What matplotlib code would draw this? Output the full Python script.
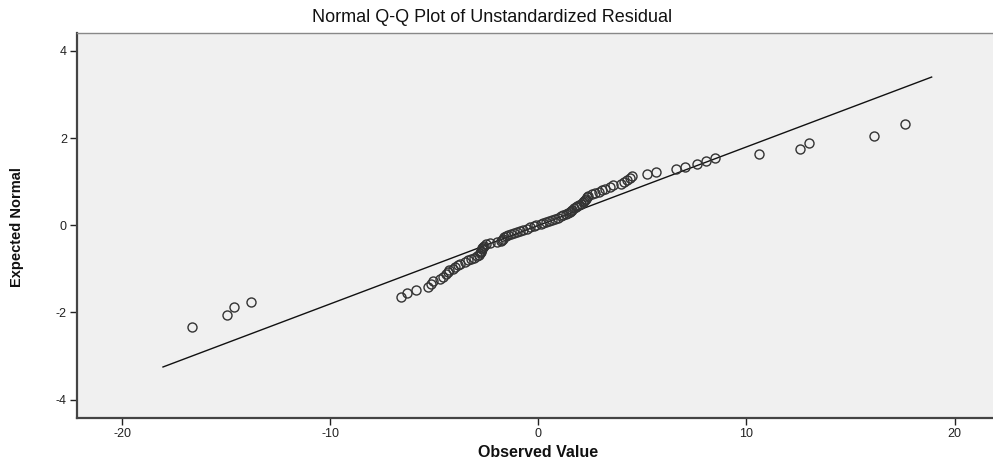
import matplotlib
matplotlib.use("Agg")
import matplotlib.pyplot as plt
from statistics import NormalDist

plt.rcParams["axes.unicode_minus"] = False

# observed residuals (sorted, n = 99)
observed = [
    -16.65, -14.95, -14.65, -13.8,
    -6.6, -6.3, -5.9, -5.3, -5.15, -5.05, -4.75, -4.6, -4.45, -4.35,
    -4.3, -4.1, -4.0, -3.85, -3.75, -3.55, -3.4, -3.25, -3.1, -2.95,
    -2.85, -2.8, -2.75, -2.75, -2.7, -2.7, -2.65, -2.6, -2.5, -2.35,
    -2.0, -1.8, -1.75, -1.7, -1.65, -1.55, -1.45, -1.3, -1.2, -1.05,
    -0.9, -0.75, -0.55, -0.4, -0.2, -0.1, 0.1, 0.2, 0.35, 0.5,
    0.65, 0.8, 0.95, 1.1, 1.2, 1.3, 1.4, 1.5, 1.55, 1.6,
    1.7, 1.8, 1.85, 1.95, 2.05, 2.15, 2.2, 2.25, 2.3, 2.35,
    2.4, 2.55, 2.7, 2.9, 3.05, 3.2, 3.45, 3.6, 3.95, 4.1,
    4.25, 4.4, 4.5, 5.2, 5.65, 6.6, 7.05, 7.6, 8.05, 8.5,
    10.6, 12.55, 13.0, 16.15, 17.6,
]

# reference line end points
line_x = [-18.05, 18.9]
line_y = [-3.25, 3.40]

x_ticks = [-20, -10, 0, 10, 20]
y_ticks = [-4, -2, 0, 2, 4]

# expected normal value of each rank, i / (n + 1)
n = len(observed)
expected = [NormalDist().inv_cdf((i + 1) / (n + 1)) for i in range(n)]

fig = plt.figure(figsize=(9.93, 4.61), dpi=100)
ax = fig.add_axes([0.0772, 0.0933, 1.0 - 0.0772, 0.836])
ax.set_facecolor("#f0f0f0")

ax.plot(line_x, line_y, color="#111111", lw=1.0, zorder=2)
ax.plot(observed, expected, linestyle="none", marker="o", ms=6.5,
        mfc="none", mec="#333333", mew=1.0, zorder=3)

ax.set_xlim(-22.2, 21.85)
ax.set_ylim(-4.42, 4.42)
ax.set_xticks(x_ticks)
ax.set_yticks(y_ticks)
ax.tick_params(direction="out", length=5, width=1, labelsize=9,
               colors="#222222", pad=2)
for lab in ax.get_xticklabels() + ax.get_yticklabels():
    lab.set_family(["Liberation Sans", "DejaVu Sans"])

for side in ["left", "bottom"]:
    ax.spines[side].set_linewidth(1.6)
    ax.spines[side].set_color("#444444")
ax.spines["top"].set_linewidth(1.0)
ax.spines["top"].set_color("#888888")
ax.spines["right"].set_visible(False)

fig.text(492 / 993, 1 - 17 / 461, "Normal Q-Q Plot of Unstandardized Residual",
         ha="center", va="center", fontsize=13,
         family=["Liberation Sans", "DejaVu Sans"], color="#111111")
fig.text(538 / 993, 1 - 452 / 461, "Observed Value", ha="center", va="center",
         fontsize=11.5, fontweight="bold",
         family=["Liberation Sans", "DejaVu Sans"], color="#111111")
fig.text(17 / 993, 1 - 227 / 461, "Expected Normal", ha="center", va="center",
         rotation=90, fontsize=10.5, fontweight="bold",
         family=["Liberation Sans Narrow", "Liberation Sans", "DejaVu Sans"],
         color="#111111")

fig.savefig("out.png", dpi=100, facecolor="white")
